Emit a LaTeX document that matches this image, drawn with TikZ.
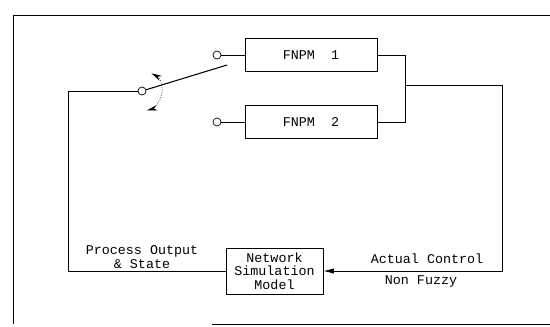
\documentclass[tikz,border=0pt]{standalone}
\usepackage{fontspec}
\setmonofont{Liberation Mono}
\usetikzlibrary{arrows.meta}
\begin{document}
\begin{tikzpicture}[x=0.02cm, y=-0.02cm,
  every node/.style={font=\ttfamily\fontsize{7.6}{7.8}\selectfont},
  block/.style={draw, thin, inner sep=0pt},
  term/.style={circle, draw, thin, minimum size=0.16cm, inner sep=0pt}]
  % Dimensions
  \def\bw{2.64cm}
  \def\bh{0.66cm}

  \useasboundingbox (0,0) rectangle (550,326);

  % Frame
  \draw[thin] (550,15) -- (13,15) -- (13,324);
  \draw[thin] (212,324) -- (550,324);

  % Models
  \node[block, minimum width=\bw, minimum height=\bh] (fnpmA) at (311,55) {FNPM~~1};
  \node[block, minimum width=\bw, minimum height=\bh] (fnpmB) at (311,122) {FNPM~~2};
  \node[block, align=center, minimum width=1.94cm, minimum height=0.92cm] (nsm) at (274.5,271) {Network\\Simulation\\Model};

  % Switch
  \node[term] (termA) at (217,55) {};
  \node[term] (termB) at (217,122) {};
  \node[term] (pivot) at (142,91) {};
  \coordinate (armend) at (227,65);
  \draw[thin] (termA) -- (fnpmA.west);
  \draw[thin] (termB) -- (fnpmB.west);
  \draw[semithick] (pivot) -- (armend);
  \draw[thin, densely dotted, {Stealth[length=6pt, width=3pt]}-{Stealth[length=6pt, width=3pt]}]
    (pivot.center) ++(-62:20) arc[start angle=-62, end angle=76, radius=20];

  % Outputs joined
  \coordinate (jtop) at (405,55);
  \coordinate (jmid) at (405,85);
  \coordinate (corner) at (502,85);
  \draw[thin] (fnpmA.east) -- (jtop) |- (fnpmB.east);
  \draw[thin, -{Latex[length=6pt, width=3pt]}] (jmid) -- (corner) |- (nsm.east);

  % Feedback
  \coordinate (fbcorner) at (68,91);
  \draw[thin] (pivot) -- (fbcorner) |- (nsm.west);

  % Labels
  \node[align=center] (procLbl) at (142,257) {Process Output\\\& State};
  \node (ctrlLbl) at (427,259) {Actual Control};
  \node (fuzzyLbl) at (421,281) {Non Fuzzy};
\end{tikzpicture}
\end{document}
